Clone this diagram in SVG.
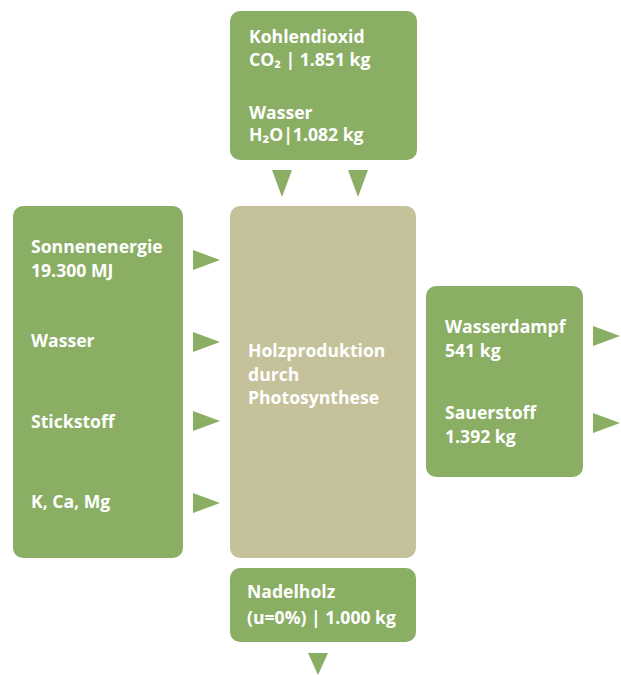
<svg xmlns="http://www.w3.org/2000/svg" width="621" height="675" viewBox="0 0 621 675">
<style>
.g{fill:#8aae64}
.b{fill:#c5c19a}
.t{font-family:"Open Sans","Noto Sans","Liberation Sans",sans-serif;font-weight:bold;font-size:17.6px;fill:#ffffff}
.a{fill:#8aae64}
</style>
<rect width="621" height="675" fill="#ffffff"/>
<g id="top">
<rect class="g" x="230" y="11" width="187" height="149" rx="10"/>
<text class="t" x="249" y="43">Kohlendioxid</text>
<text class="t" x="249" y="66">CO₂ | 1.851 kg</text>
<text class="t" x="249" y="119">Wasser</text>
<text class="t" x="249" y="141">H₂O|1.082 kg</text>
</g>
<g id="inputs">
<rect class="g" x="13" y="206" width="170" height="352" rx="10"/>
<text class="t" x="31" y="253">Sonnenenergie</text>
<text class="t" x="31" y="277">19.300 MJ</text>
<text class="t" x="31" y="347">Wasser</text>
<text class="t" x="31" y="428">Stickstoff</text>
<text class="t" x="31" y="508">K, Ca, Mg</text>
</g>
<g id="process">
<rect class="b" x="230" y="206" width="186" height="352" rx="10"/>
<text class="t" x="248" y="357">Holzproduktion</text>
<text class="t" x="248" y="381">durch</text>
<text class="t" x="248" y="404">Photosynthese</text>
</g>
<g id="outputs">
<rect class="g" x="426" y="286" width="157" height="191" rx="10"/>
<text class="t" x="445" y="333">Wasserdampf</text>
<text class="t" x="445" y="357">541 kg</text>
<text class="t" x="445" y="419">Sauerstoff</text>
<text class="t" x="445" y="443">1.392 kg</text>
</g>
<g id="product">
<rect class="g" x="230" y="568" width="186" height="74" rx="10"/>
<text class="t" x="247" y="598">Nadelholz</text>
<text class="t" x="247" y="624">(u=0%) | 1.000 kg</text>
</g>
<g id="connectors">
<polygon class="a" points="272,170 292,170 282,197"/>
<polygon class="a" points="348,170 368,170 358,197"/>
<polygon class="a" points="193,250 220,260 193,270"/>
<polygon class="a" points="193,332 220,342 193,352"/>
<polygon class="a" points="193,411 220,421 193,431"/>
<polygon class="a" points="193,493 220,503 193,513"/>
<polygon class="a" points="593,326 620,336 593,346"/>
<polygon class="a" points="593,413 620,423 593,433"/>
<polygon class="a" points="308,653 328,653 318,675"/>
</g>
</svg>
